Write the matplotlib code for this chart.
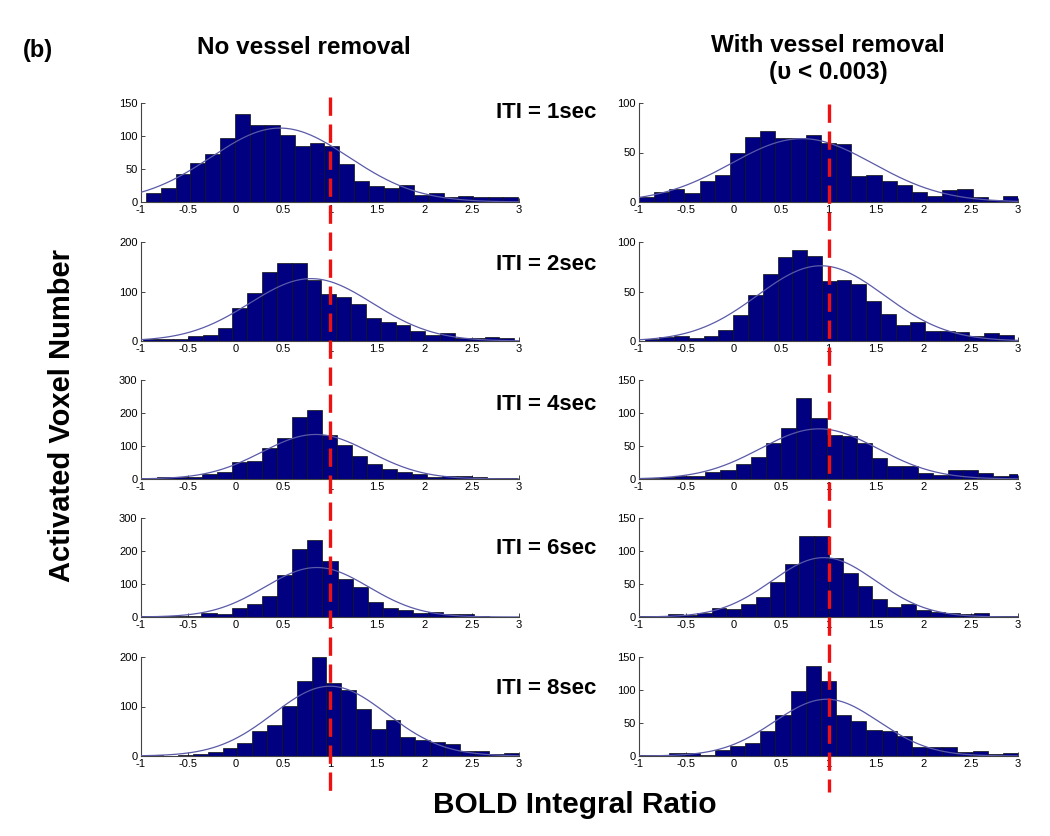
import numpy as np
import matplotlib
matplotlib.use('Agg')
import matplotlib.pyplot as plt
from matplotlib.lines import Line2D

plt.rcParams['font.family'] = ['Liberation Sans', 'DejaVu Sans']
plt.rcParams['axes.unicode_minus'] = False

# histogram counts, one list per panel (rows = ITI)
iti_labels = ['ITI = 1sec', 'ITI = 2sec', 'ITI = 4sec', 'ITI = 6sec', 'ITI = 8sec']

left_counts = [
    [14, 21, 42, 59, 73, 97, 133, 117, 117, 101, 85, 89, 85, 58, 32, 24, 21, 26, 10, 13, 8, 9, 7, 8, 7],
    [5, 5, 5, 10, 12, 27, 66, 97, 140, 158, 158, 124, 95, 88, 75, 46, 39, 33, 20, 12, 16, 7, 7, 9, 7],
    [2, 5, 7, 5, 15, 20, 53, 56, 93, 124, 188, 208, 132, 102, 71, 46, 30, 20, 15, 7, 10, 10, 7, 3, 3],
    [2, 2, 3, 4, 12, 10, 27, 38, 63, 127, 205, 234, 170, 114, 90, 44, 27, 20, 13, 15, 10, 8, 2, 1, 1],
    [3, 1, 3, 5, 9, 17, 27, 50, 62, 102, 152, 200, 148, 133, 94, 54, 72, 39, 32, 28, 25, 11, 10, 5, 7],
]
right_counts = [
    [5, 10, 13, 9, 21, 27, 50, 66, 72, 65, 65, 68, 60, 59, 26, 27, 21, 17, 10, 6, 12, 13, 5, 2, 6],
    [2, 4, 5, 3, 5, 11, 26, 46, 68, 85, 92, 86, 61, 62, 58, 40, 27, 16, 19, 10, 10, 9, 5, 8, 6],
    [1, 3, 4, 5, 11, 14, 22, 33, 54, 77, 122, 93, 67, 65, 55, 32, 20, 19, 9, 6, 14, 14, 9, 4, 7],
    [1, 1, 4, 3, 6, 13, 12, 19, 30, 53, 81, 122, 123, 89, 66, 47, 27, 15, 19, 11, 7, 6, 4, 6, 1, 1],
    [2, 1, 4, 4, 1, 9, 15, 19, 38, 62, 98, 136, 113, 62, 53, 40, 38, 30, 13, 13, 14, 6, 8, 3, 5],
]

# first / last bin edge of each panel
left_range = [(-0.95, 2.99), (-0.975, 2.95), (-0.99, 2.98), (-1.0, 3.0), (-0.92, 3.0)]
right_range = [(-1.0, 3.0), (-0.94, 2.955), (-0.94, 3.06), (-1.0, 3.0), (-1.0, 3.0)]

# normal fit drawn over each histogram: (mean, sd, peak height)
left_fit = [(0.47, 0.73, 112), (0.80, 0.65, 126), (0.85, 0.57, 135), (0.86, 0.55, 150), (1.00, 0.60, 141)]
right_fit = [(0.72, 0.75, 64), (0.92, 0.67, 76), (0.90, 0.62, 76), (0.95, 0.55, 90), (0.98, 0.55, 86)]

left_ymax = [150, 200, 300, 300, 200]
right_ymax = [100, 100, 150, 150, 150]

xticks = [-1, -0.5, 0, 0.5, 1, 1.5, 2, 2.5, 3]
xticklabels = ['-1', '-0.5', '0', '0.5', '1', '1.5', '2', '2.5', '3']

W, H = 1050, 836
fig = plt.figure(figsize=(W / 100, H / 100), dpi=100)

row_tops = [103, 242, 380, 518, 657]
row_h = 99
col_x = [(141, 378), (639, 379)]
iti_y = [113, 265, 405, 548, 688]


def draw_panel(ax, counts, rng, fit, ymax):
    edges = np.linspace(rng[0], rng[1], len(counts) + 1)
    ax.bar(edges[:-1], counts, width=np.diff(edges), align='edge',
           color='#000080', edgecolor='#111111', linewidth=0.5, zorder=2,
           clip_on=True)
    mu, sd, peak = fit
    xs = np.linspace(-1, 3, 300)
    ax.plot(xs, peak * np.exp(-(xs - mu) ** 2 / (2 * sd ** 2)),
            color='#5a5aa8', lw=0.9, zorder=3)
    ax.set_xlim(-1, 3)
    ax.set_ylim(0, ymax)
    ax.set_xticks(xticks)
    ax.set_xticklabels(xticklabels)
    step = 50 if ymax <= 150 else 100
    ax.set_yticks(np.arange(0, ymax + 1, step))
    for s in ['top', 'right']:
        ax.spines[s].set_visible(False)
    for s in ['left', 'bottom']:
        ax.spines[s].set_color('#444444')
        ax.spines[s].set_linewidth(0.8)
    ax.tick_params(direction='in', length=3, width=0.7, color='#444444',
                   labelsize=8, pad=2.5)


left_axes = []
right_axes = []
for i in range(5):
    bottom = 1 - (row_tops[i] + row_h) / H
    axl = fig.add_axes([col_x[0][0] / W, bottom, col_x[0][1] / W, row_h / H])
    draw_panel(axl, left_counts[i], left_range[i], left_fit[i], left_ymax[i])
    left_axes.append(axl)
    axr = fig.add_axes([col_x[1][0] / W, bottom, col_x[1][1] / W, row_h / H])
    draw_panel(axr, right_counts[i], right_range[i], right_fit[i], right_ymax[i])
    right_axes.append(axr)
    fig.text(496 / W, 1 - iti_y[i] / H, iti_labels[i], fontsize=16,
             fontweight='bold', ha='left', va='center')

# red dashed reference line at ratio = 1 running through each column
fig.canvas.draw()
inv = fig.transFigure.inverted()
for ax, ytop in [(left_axes[0], 97), (right_axes[0], 104)]:
    xf = inv.transform(ax.transData.transform((1, 0)))[0]
    fig.add_artist(Line2D([xf, xf], [1 - ytop / H, 1 - 792 / H],
                          transform=fig.transFigure, color='#ee1111',
                          lw=2.4, linestyle=(0, (5.5, 2.6)), zorder=10))

fig.text(23 / W, 1 - 50 / H, '(b)', fontsize=17, fontweight='bold', ha='left', va='center')
fig.text(304 / W, 1 - 47 / H, 'No vessel removal', fontsize=17.5, fontweight='bold',
         ha='center', va='center')
fig.text(828 / W, 1 - 45 / H, 'With vessel removal', fontsize=17.5, fontweight='bold',
         ha='center', va='center')
fig.text(828 / W, 1 - 72 / H, '(\u03c5 < 0.003)', fontsize=17.5, fontweight='bold',
         ha='center', va='center')
fig.text(62 / W, 1 - 415 / H, 'Activated Voxel Number', fontsize=21, fontweight='bold',
         rotation=90, ha='center', va='center')
fig.text(575 / W, 1 - 805 / H, 'BOLD Integral Ratio', fontsize=21.5, fontweight='bold',
         ha='center', va='center')

fig.savefig('out.png', dpi=100)
